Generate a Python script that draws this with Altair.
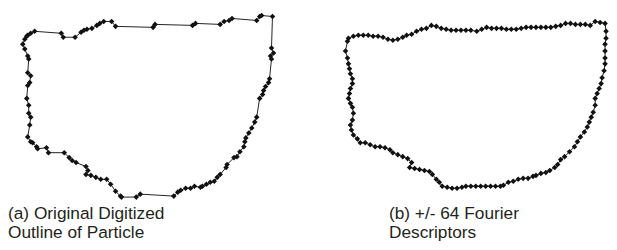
import altair as alt
import pandas as pd

# Outline (a): original digitized outline, vertices (x, y) in picture units
a_x = [25, 27, 28, 31, 35, 62, 64, 76, 82, 85, 88, 93, 98, 101, 105, 113, 117,
       155, 157, 195, 198, 223, 227, 232, 235, 260, 263, 265, 276,
       275, 277, 274, 275, 273, 272, 269, 267, 266, 263,
       260, 258, 255, 252, 249, 248, 247, 243, 240, 237, 230, 229, 223, 220, 217, 213,
       209, 205, 203, 197, 193, 188, 183, 180, 176,
       142, 138, 123, 122, 117, 112, 108, 102, 97, 92, 87, 89, 87, 77, 73, 70, 65,
       49, 47, 38, 37, 33, 31, 28, 30, 31, 29, 29, 27, 28, 30, 31, 28, 29, 28, 25, 23]
a_y = [38, 35, 34, 32, 30, 32, 36, 36, 31, 29, 28, 27, 24, 22, 20, 20, 25,
       26, 23, 24, 22, 23, 20, 19, 17, 19, 15, 14, 15,
       47, 52, 55, 58, 78, 82, 86, 90, 94, 98,
       117, 122, 128, 133, 138, 142, 147, 152, 157, 158, 165, 168, 175, 178, 182, 183,
       185, 187, 188, 187, 189, 189, 191, 193, 197,
       195, 198, 198, 197, 192, 185, 180, 180, 178, 176, 175, 171, 167, 163, 161, 158, 153,
       153, 148, 149, 147, 143, 142, 137, 125, 117, 113, 105, 98, 85, 82, 75, 72, 58, 55, 48, 43]

# Outline (b): reconstruction from +/- 64 Fourier descriptors
b_x = [352, 353, 358, 363, 368, 373, 378, 383, 388, 393, 398, 403, 408, 412, 417, 422, 427,
       432, 437, 442, 447, 452, 457, 462, 467, 472, 477, 483, 488, 493, 498, 503, 508,
       513, 518, 523, 528, 533, 538, 543, 548, 553, 558, 563, 568, 573, 578, 583, 588,
       593, 598, 603, 608, 613,
       614, 614, 613, 613, 613, 613, 612, 610, 609, 607, 605, 603, 603, 601, 599, 597,
       595, 592, 588, 585, 582, 577, 572, 568, 565, 562, 557, 553, 548, 543, 540, 535,
       530, 525, 520, 515, 510, 507, 502, 497, 492, 487, 482, 477, 472, 468, 463, 458,
       453, 448, 445, 442, 438, 435, 430, 425, 420, 415, 417, 413, 408, 403, 398, 395,
       390, 385, 380, 375, 370, 365, 362, 358, 356, 355, 357, 358, 357, 355, 353, 354,
       355, 357, 357, 355, 354, 353, 352, 350]
b_y = [40, 37, 35, 34, 34, 34, 35, 35, 36, 38, 39, 38, 36, 34, 33, 30, 28,
       27, 24, 25, 27, 28, 29, 29, 29, 29, 29, 30, 28, 26, 27, 27, 27,
       28, 28, 28, 27, 26, 26, 26, 26, 26, 26, 25, 24, 22, 22, 23, 23,
       23, 24, 20, 21, 22,
       30, 37, 43, 50, 57, 63, 70, 77, 83, 88, 93, 98, 105, 112, 117, 122,
       127, 132, 137, 142, 147, 152, 157, 160, 165, 168, 171, 173, 174, 176, 177, 179,
       179, 180, 182, 183, 186, 187, 187, 187, 187, 187, 187, 187, 187, 188, 189, 189,
       188, 187, 183, 180, 175, 172, 171, 170, 169, 168, 163, 159, 157, 155, 153, 150,
       148, 147, 147, 145, 143, 143, 139, 135, 130, 125, 120, 113, 107, 103, 98, 93,
       88, 83, 78, 73, 68, 63, 57, 50]

captions = ["(a) Original Digitized", "Outline of Particle",
            "(b) +/- 64 Fourier", "Descriptors"]
cap_x = [8, 8, 394, 394]
cap_y = [220, 239, 220, 239]


def outline(xs, ys, name):
    n = len(xs)
    rows = [{"x": xs[i], "y": ys[i], "i": i, "panel": name} for i in range(n)]
    rows.append({"x": xs[0], "y": ys[0], "i": n, "panel": name})
    return rows


df = pd.DataFrame(outline(a_x, a_y, "a") + outline(b_x, b_y, "b"))
pts = df[df["i"] < df.groupby("panel")["i"].transform("max")]
tdf = pd.DataFrame({"x": cap_x, "y": cap_y, "t": captions})

W, H = 609, 242
xs = alt.Scale(domain=[8, 8 + W], nice=False, zero=False)
ys = alt.Scale(domain=[8, 8 + H], nice=False, zero=False, reverse=True)
X = alt.X("x:Q", scale=xs, axis=None)
Y = alt.Y("y:Q", scale=ys, axis=None)

line = alt.Chart(df).mark_line(color="#222222", strokeWidth=1).encode(
    x=X, y=Y, detail="panel:N", order="i:Q")
marks = alt.Chart(pts).mark_point(shape="diamond", filled=True, color="#111111",
                                  size=32, opacity=1).encode(x=X, y=Y)
text = alt.Chart(tdf).mark_text(align="left", baseline="alphabetic", fontSize=17.5,
                                font="Liberation Sans", color="#231f20").encode(
    x=X, y=Y, text="t:N")

chart = (line + marks + text).properties(
    width=W, height=H, padding=0, autosize=alt.AutoSizeParams(type="none")
).configure_view(stroke=None)

chart.save("out.html", embed_options={"renderer": "svg", "actions": False})
